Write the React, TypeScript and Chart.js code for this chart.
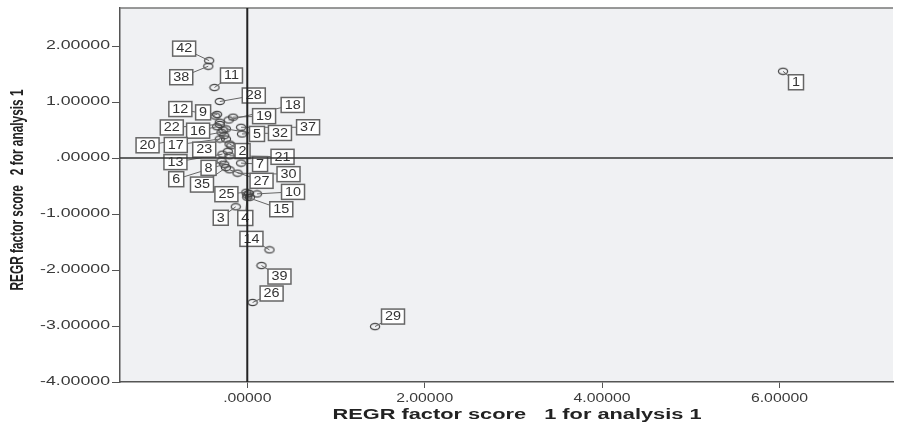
import React, { useEffect, useRef } from "react";
import { Chart, registerables } from "chart.js";
Chart.register(...registerables);

// ---- data ----
const caseIds = [1,2,3,4,5,6,7,8,9,10,11,12,13,14,15,16,17,18,19,20,21,22,23,24,25,26,27,28,29,30,31,32,33,34,35,36,37,38,39,40,41,42];
const factorScore1 = [6.04,-0.20,-0.13,0.00,-0.24,-0.26,-0.07,-0.29,-0.34,0.11,-0.37,-0.36,-0.28,0.25,0.00,-0.34,-0.31,-0.21,-0.16,-0.29,-0.20,-0.31,-0.26,-0.24,-0.01,0.06,-0.20,-0.31,1.44,-0.11,-0.18,-0.06,-0.31,-0.22,-0.24,0.02,-0.07,-0.44,0.16,-0.27,0.03,-0.43];
const factorScore2 = [1.55,0.25,-0.87,-0.66,0.52,-0.11,-0.09,-0.05,0.78,-0.64,1.26,0.75,0.07,-1.64,-0.70,0.56,0.34,0.68,0.73,0.46,0.04,0.60,0.40,0.34,-0.61,-2.58,-0.21,1.01,-3.01,-0.27,0.22,0.43,0.64,0.12,-0.17,-0.63,0.55,1.64,-1.92,0.50,-0.70,1.74];
const xTicks = [0, 2, 4, 6];
const xTickLabels = [".00000", "2.00000", "4.00000", "6.00000"];
const yTicks = [2, 1, 0, -1, -2, -3, -4];
const yTickLabels = ["2.00000", "1.00000", ".00000", "-1.00000", "-2.00000", "-3.00000", "-4.00000"];
const xTitle = "REGR factor score   1 for analysis 1";
const yTitle = "REGR factor score   2 for analysis 1";

// ---- label placement (pixel offsets from the point; layout only) ----
const labelOffsets: Record<number, [number, number]> = {
  1: [13, 11], 42: [-25, -12], 38: [-27, 11], 11: [17, -12], 28: [34, -6],
  12: [-35, -7], 9: [-14, -2], 19: [31, -1], 18: [64, -15], 22: [-48, 3],
  16: [-19, 4], 37: [67, 0], 32: [38, -1], 5: [31, 5], 20: [-74, 13],
  17: [-44, 6], 23: [-20, 14], 2: [13, 7], 13: [-47, 8], 8: [-13, 7],
  7: [19, 1], 21: [53, 1], 6: [-48, 15], 35: [-24, 17], 30: [51, 1],
  27: [32, 11], 25: [-20, 2], 10: [36, -2], 15: [34, 12], 3: [-15, 11],
  4: [-2, 23], 14: [-18, -11], 39: [18, 11], 26: [19, -9], 29: [18, -10],
};

function drawStretched(ctx: CanvasRenderingContext2D, text: string, x: number, y: number, sx: number, align: "left" | "center" | "right") {
  ctx.save();
  ctx.translate(x, y);
  ctx.scale(sx, 1);
  ctx.textAlign = align;
  ctx.textBaseline = "middle";
  ctx.fillText(text, 0, 0);
  ctx.restore();
}

export default function App() {
  const ref = useRef<HTMLCanvasElement | null>(null);
  useEffect(() => {
    const canvas = ref.current!;
    const marker = document.createElement("canvas");
    marker.width = 12;
    marker.height = 9;
    const mctx = marker.getContext("2d")!;
    mctx.strokeStyle = "#444";
    mctx.lineWidth = 1.2;
    mctx.beginPath();
    mctx.ellipse(6, 4.5, 4.6, 3.1, 0, 0, Math.PI * 2);
    mctx.stroke();

    const plugin = {
      id: "spss",
      beforeDraw(chart: any) {
        const { ctx, chartArea: a } = chart;
        ctx.save();
        ctx.fillStyle = "#ffffff";
        ctx.fillRect(0, 0, chart.width, chart.height);
        ctx.fillStyle = "#f0f1f3";
        ctx.fillRect(a.left, a.top, a.right - a.left, a.bottom - a.top);
        ctx.restore();
      },
      afterDatasetsDraw(chart: any) {
        const { ctx } = chart;
        const xs = chart.scales.x, ys = chart.scales.y;
        ctx.save();
        ctx.font = "12px 'Liberation Sans', Arial, sans-serif";
        const sx = 1.2;
        caseIds.forEach((id, i) => {
          const off = labelOffsets[id];
          if (!off) return;
          const px = xs.getPixelForValue(factorScore1[i]);
          const py = ys.getPixelForValue(factorScore2[i]);
          const lx = px + off[0], ly = py + off[1];
          ctx.strokeStyle = "#666";
          ctx.lineWidth = 1;
          ctx.beginPath();
          ctx.moveTo(px, py);
          ctx.lineTo(lx, ly);
          ctx.stroke();
        });
        caseIds.forEach((id, i) => {
          const off = labelOffsets[id];
          if (!off) return;
          const px = xs.getPixelForValue(factorScore1[i]);
          const py = ys.getPixelForValue(factorScore2[i]);
          const lx = px + off[0], ly = py + off[1];
          const t = String(id);
          const tw = ctx.measureText(t).width * sx;
          const w = Math.round(tw + 7), h = 15;
          ctx.fillStyle = "#ffffff";
          ctx.fillRect(lx - w / 2, ly - h / 2, w, h);
          ctx.strokeStyle = "#666";
          ctx.lineWidth = 1.5;
          ctx.strokeRect(lx - w / 2, ly - h / 2, w, h);
          ctx.fillStyle = "#333";
          drawStretched(ctx, t, lx, ly + 0.5, sx, "center");
        });
        ctx.restore();
      },
      afterDraw(chart: any) {
        const { ctx, chartArea: a } = chart;
        const xs = chart.scales.x, ys = chart.scales.y;
        ctx.save();
        // top frame
        ctx.strokeStyle = "#777";
        ctx.lineWidth = 1.5;
        ctx.beginPath();
        ctx.moveTo(a.left, a.top);
        ctx.lineTo(a.right, a.top);
        ctx.stroke();
        // reference lines
        const x0 = xs.getPixelForValue(0);
        const y0 = ys.getPixelForValue(0);
        ctx.strokeStyle = "#333";
        ctx.lineWidth = 1.5;
        ctx.beginPath();
        ctx.moveTo(a.left, y0);
        ctx.lineTo(a.right, y0);
        ctx.stroke();
        ctx.strokeStyle = "#222";
        ctx.lineWidth = 2;
        ctx.beginPath();
        ctx.moveTo(x0, a.top);
        ctx.lineTo(x0, a.bottom);
        ctx.stroke();

        // tick labels
        ctx.fillStyle = "#3a3a3a";
        ctx.font = "12px 'Liberation Sans', Arial, sans-serif";
        const ySx = 64 / ctx.measureText("2.00000").width;
        yTicks.forEach((v, i) => {
          drawStretched(ctx, yTickLabels[i], a.left - 10, ys.getPixelForValue(v), ySx, "right");
        });
        const xSx = 57 / ctx.measureText("2.00000").width;
        xTicks.forEach((v, i) => {
          drawStretched(ctx, xTickLabels[i], xs.getPixelForValue(v), 399, xSx, "center");
        });

        // titles
        ctx.fillStyle = "#222";
        ctx.font = "bold 14px 'Liberation Sans', Arial, sans-serif";
        const xtSx = 369 / ctx.measureText(xTitle).width;
        drawStretched(ctx, xTitle, 517, 415, xtSx, "center");

        ctx.font = "bold 18px 'Liberation Sans', Arial, sans-serif";
        const ytSx = 201 / ctx.measureText(yTitle).width;
        ctx.save();
        ctx.translate(18, 190);
        ctx.rotate(-Math.PI / 2);
        drawStretched(ctx, yTitle, 0, 0, ytSx, "center");
        ctx.restore();
        ctx.restore();
      },
    };

    const chart = new Chart(canvas, {
      type: "scatter",
      data: {
        datasets: [
          {
            data: caseIds.map((_, i) => ({ x: factorScore1[i], y: factorScore2[i] })),
            pointStyle: marker as any,
            pointRadius: 5,
            pointHoverRadius: 5,
          },
        ],
      },
      options: {
        responsive: false,
        animation: false,
        devicePixelRatio: 1,
        layout: { padding: { top: 8, right: 2, left: 0, bottom: 0 } },
        plugins: { legend: { display: false }, tooltip: { enabled: false } },
        scales: {
          x: {
            type: "linear",
            min: -1.435,
            max: 7.28,
            afterBuildTicks: (s: any) => { s.ticks = xTicks.map((v) => ({ value: v })); },
            afterFit: (s: any) => { s.height = 46; },
            ticks: { display: false },
            grid: { display: true, drawOnChartArea: false, drawTicks: true, tickLength: 6, color: "#555", lineWidth: 1 },
            border: { display: true, color: "#555", width: 1.5 },
          },
          y: {
            type: "linear",
            min: -4,
            max: 2.68,
            afterBuildTicks: (s: any) => { s.ticks = yTicks.map((v) => ({ value: v })); },
            afterFit: (s: any) => { s.width = 120; },
            ticks: { display: false },
            grid: { display: true, drawOnChartArea: false, drawTicks: true, tickLength: 8, color: "#555", lineWidth: 1 },
            border: { display: true, color: "#555", width: 1.5 },
          },
        },
      },
      plugins: [plugin],
    });
    return () => chart.destroy();
  }, []);
  return (
    <div style={{ position: "fixed", left: 0, top: 0, width: 899, height: 428 }}>
      <canvas ref={ref} width={899} height={428} />
    </div>
  );
}
